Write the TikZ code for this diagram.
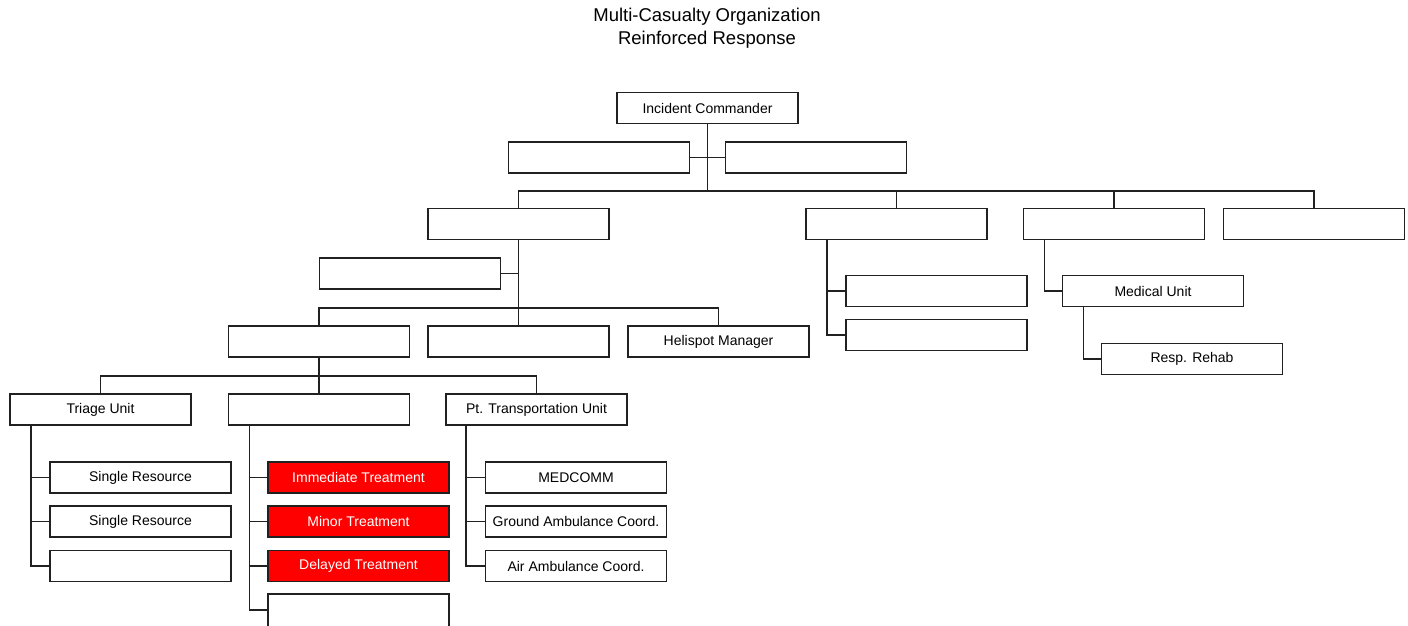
\documentclass[tikz,border=0pt]{standalone}
\usepackage{fontspec}
\setmainfont{Liberation Sans}
\usepackage{color}
\definecolor{boxred}{rgb}{1,0,0}
\definecolor{boxline}{rgb}{0.13,0.13,0.13}

\begin{document}
\begin{tikzpicture}
[x=1pt, y=-1pt,
 unit/.style={draw=boxline, line width=1.6pt, minimum width=181pt, minimum height=31pt,
              inner sep=0pt, font=\fontsize{14}{16}\selectfont},
 hot/.style={unit, fill=boxred, text=white},
 link/.style={draw=boxline, line width=1.5pt}]

% Page frame (bottom row runs off the page):
\useasboundingbox (0,0) rectangle (1408,625);
\clip (0,0) rectangle (1408,625);

% Title:
\node (title) at (707,28.5) [align=center, font=\fontsize{18.5}{23}\selectfont]
  {Multi-Casualty Organization\\Reinforced Response};

% Command level:
\node[unit] (ic)     at (707.5,108)   {Incident Commander};
\node[unit] (staff1) at (599,157.5)   {};
\node[unit] (staff2) at (816,157.5)   {};
\coordinate (cmdbar) at (707.5,191);
\draw[link] (ic.south) -- (cmdbar);
\draw[link] (staff1.east) -- (staff2.west);

% Sections:
\node[unit] (ops)  at (518.5,224) {};
\node[unit] (sec2) at (896.5,224) {};
\node[unit] (sec3) at (1114,224)  {};
\node[unit] (sec4) at (1314,224)  {};
\draw[link] (ops.north) |- (cmdbar) -| (sec4.north);
\foreach \s in {sec2,sec3}
  \draw[link] (\s.north) -- (\s.north |- cmdbar);

% Operations branch:
\node[unit] (opsstaff) at (410,273.5)   {};
\node[unit] (br1)      at (319,341.5)   {};
\node[unit] (br2)      at (518.5,341.5) {};
\node[unit] (heli)     at (718.5,341.5) {Helispot Manager};
\coordinate (opsbar) at (518.5,308);
\draw[link] (ops.south) -- (br2.north);
\draw[link] (opsstaff.east) -- (opsstaff.east -| ops.south);
\draw[link] (br1.north) |- (opsbar) -| (heli.north);

% Groups:
\node[unit] (triage) at (100.5,409.5) {Triage Unit};
\node[unit] (treat)  at (319,409.5)   {};
\node[unit] (trans)  at (536.5,409.5) {Pt. Transportation Unit};
\coordinate (grpbar) at (319,376);
\draw[link] (br1.south) -- (treat.north);
\draw[link] (triage.north) |- (grpbar) -| (trans.north);

% Units under the groups:
\node[unit] (sr1) at (140.5,477.5) {Single Resource};
\node[unit] (sr2) at (140.5,521.5) {Single Resource};
\node[unit] (sr3) at (140.5,566)   {};
\node[hot]  (imm) at (358.5,477.5) {Immediate Treatment};
\node[hot]  (mnr) at (358.5,521.5) {Minor Treatment};
\node[hot]  (dly) at (358.5,566)   {Delayed Treatment};
\node[unit, minimum height=36pt] (tr4) at (358.5,612) {};
\node[unit] (medcomm) at (576,477.5) {MEDCOMM};
\node[unit] (ground)  at (576,521.5) {Ground Ambulance Coord.};
\node[unit] (air)     at (576,566)   {Air Ambulance Coord.};
\foreach \c in {sr1,sr2,sr3}
  \draw[link] ([xshift=22pt]triage.south west) |- (\c.west);
\foreach \c in {imm,mnr,dly}
  \draw[link] ([xshift=22pt]treat.south west) |- (\c.west);
\draw[link] ([xshift=22pt]treat.south west) |- ([yshift=2pt]tr4.west);
\foreach \c in {medcomm,ground,air}
  \draw[link] ([xshift=21pt]trans.south west) |- (\c.west);

% Right-hand sections:
\node[unit] (s2a)   at (936.5,291) {};
\node[unit] (s2b)   at (936.5,335) {};
\node[unit] (med)   at (1153,291)  {Medical Unit};
\node[unit] (rehab) at (1192,359)  {Resp. Rehab};
\foreach \c in {s2a,s2b}
  \draw[link] ([xshift=22pt]sec2.south west) |- (\c.west);
\draw[link] ([xshift=22pt]sec3.south west) |- (med.west);
\draw[link] ([xshift=22pt]med.south west) |- (rehab.west);

\end{tikzpicture}
\end{document}
